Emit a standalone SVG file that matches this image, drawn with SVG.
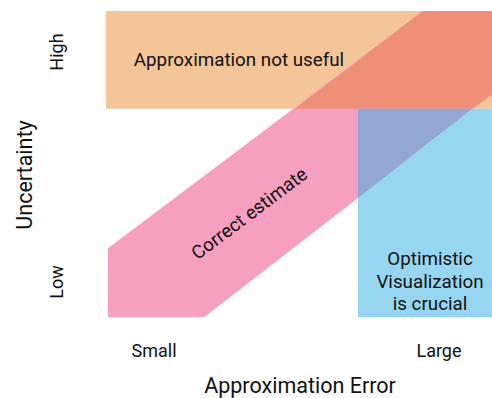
<svg xmlns="http://www.w3.org/2000/svg" width="492" height="398" viewBox="0 0 492 398">
<style>
text{font-family:Roboto,"Liberation Sans",sans-serif;fill:#111;}
.s{font-size:18px;}
.m{font-size:18.8px;}
.l{font-size:21.5px;}
</style>
<rect width="492" height="398" fill="#fff"/>
<g id="not-useful">
<rect x="106" y="11" width="386" height="97.7" fill="#F3C599"/>
</g>
<g id="correct">
<polygon points="108,248.3 108,317.3 204,317.3 492,94.2 492,11 423,11" fill="#F79FC0"/>
</g>
<g id="optimistic">
<rect x="358" y="108.7" width="134" height="208.6" fill="#97D6F1"/>
</g>
<g id="overlaps">
<polygon points="423,11 492,11 492,94.2 472,108.7 295,108.7" fill="#EF8F78"/>
<polygon points="358,108.7 472,108.7 358,198" fill="#94A7D4"/>
</g>
<g id="labels">
<text class="m" x="239" y="66" text-anchor="middle">Approximation not useful</text>
<text class="m" x="249" y="220" text-anchor="middle" transform="rotate(-37 249 213)">Correct estimate</text>
<text class="m" x="430" y="265" text-anchor="middle">Optimistic</text>
<text class="m" x="430" y="288" text-anchor="middle">Visualization</text>
<text class="m" x="430" y="310" text-anchor="middle">is crucial</text>
</g>
<g id="axes">
<text class="s" x="0" y="0" text-anchor="middle" transform="translate(63 52) rotate(-90)">High</text>
<text class="s" x="0" y="0" text-anchor="middle" transform="translate(63 282) rotate(-90)">Low</text>
<text class="l" x="0" y="0" text-anchor="middle" transform="translate(32 175) rotate(-90)">Uncertainty</text>
<text class="s" x="154" y="357" text-anchor="middle">Small</text>
<text class="s" x="439" y="357" text-anchor="middle">Large</text>
<text class="l" x="300" y="393" text-anchor="middle">Approximation Error</text>
</g>
</svg>
